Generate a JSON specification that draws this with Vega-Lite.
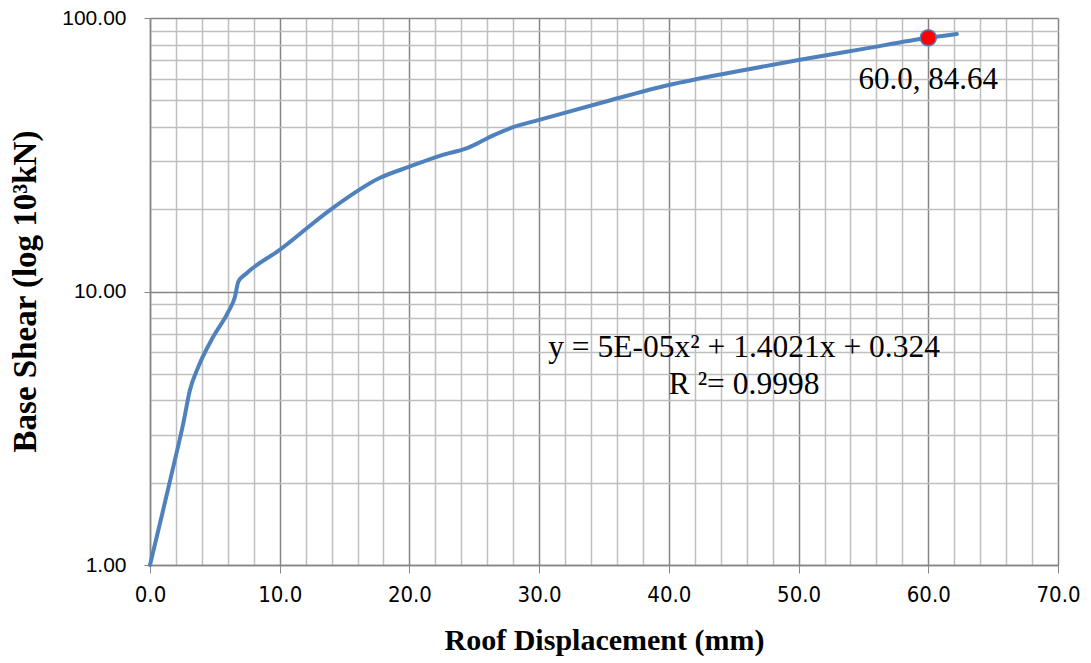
{
  "$schema": "https://vega.github.io/schema/vega-lite/v6.json",
  "width": 908,
  "height": 547,
  "autosize": {"type": "none"},
  "padding": {"left": 150, "top": 18, "right": 33, "bottom": 98},
  "background": "white",
  "config": {"view": {"stroke": null}},
  "datasets": {
    "curve": [
      {"x": 0, "y": 1.0}, {"x": 1.0, "y": 1.58}, {"x": 1.8, "y": 2.29}, {"x": 2.57, "y": 3.3},
      {"x": 3.08, "y": 4.36}, {"x": 3.73, "y": 5.31}, {"x": 4.88, "y": 6.84}, {"x": 6.04, "y": 8.44},
      {"x": 6.55, "y": 9.57}, {"x": 6.81, "y": 10.86}, {"x": 7.45, "y": 11.66}, {"x": 10.0, "y": 14.2},
      {"x": 13.9, "y": 19.9}, {"x": 17.7, "y": 26.0}, {"x": 20.0, "y": 28.6}, {"x": 22.4, "y": 31.4},
      {"x": 24.5, "y": 33.5}, {"x": 26.5, "y": 37.3}, {"x": 28.0, "y": 39.9}, {"x": 30.0, "y": 42.4},
      {"x": 35.0, "y": 49.3}, {"x": 40.0, "y": 56.9}, {"x": 45.0, "y": 63.5}, {"x": 50.0, "y": 70.2},
      {"x": 55.0, "y": 77.1}, {"x": 60.0, "y": 84.64}, {"x": 62.2, "y": 87.4}
    ],
    "marker": [{"x": 60.0, "y": 84.64}],
    "pointLabel": [{"x": 60.0, "y": 59.3, "label": "60.0, 84.64"}],
    "equation": [
      {"x": 45.8, "y": 6.22, "label": "y = 5E-05x² + 1.4021x + 0.324"},
      {"x": 45.8, "y": 4.55, "label": "R ²= 0.9998"}
    ]
  },
  "encoding": {
    "x": {
      "field": "x", "type": "quantitative",
      "scale": {"domain": [0, 70], "nice": false, "zero": false},
      "axis": {
        "title": "Roof Displacement (mm)",
        "values": [0,2,4,6,8,10,12,14,16,18,20,22,24,26,28,30,32,34,36,38,40,42,44,46,48,50,52,54,56,58,60,62,64,66,68,70],
        "labelExpr": "datum.value % 10 === 0 ? format(datum.value, '.1f') : ''",
        "labelOverlap": false, "labelFlush": false, "labelBound": false,
        "labelFont": "DejaVu Sans Condensed", "labelFontSize": 22, "labelColor": "#000000",
        "labelPadding": 11,
        "grid": true,
        "gridColor": {"condition": {"test": "datum.value % 10 === 0", "value": "#868686"}, "value": "#BFBFBF"},
        "gridWidth": 1.5,
        "tickSize": 8,
        "tickColor": "#868686",
        "tickOpacity": {"condition": {"test": "datum.value % 10 === 0", "value": 1}, "value": 0},
        "domainColor": "#868686", "domainWidth": 1.5,
        "titleFont": "Liberation Serif", "titleFontSize": 30, "titleFontWeight": "bold", "titleColor": "#000000",
        "titleX": 454, "titleY": 75, "titleAlign": "center", "titleBaseline": "middle", "titleAnchor": null
      }
    },
    "y": {
      "field": "y", "type": "quantitative",
      "scale": {"type": "log", "domain": [1, 100], "nice": false},
      "axis": {
        "title": "Base Shear (log 10³kN)",
        "values": [1,2,3,4,5,6,7,8,9,10,20,30,40,50,60,70,80,90,100],
        "labelExpr": "indexof([1,10,100], datum.value) >= 0 ? format(datum.value, '.2f') : ''",
        "labelOverlap": false, "labelFlush": false, "labelBound": false,
        "labelFont": "Liberation Sans", "labelFontSize": 21, "labelColor": "#000000",
        "labelPadding": 18,
        "grid": true,
        "gridColor": {"condition": {"test": "indexof([1,10,100], datum.value) >= 0", "value": "#868686"}, "value": "#BFBFBF"},
        "gridWidth": 1.5,
        "tickSize": 6,
        "tickColor": "#868686",
        "tickOpacity": {"condition": {"test": "indexof([1,10,100], datum.value) >= 0", "value": 1}, "value": 0},
        "domainColor": "#868686", "domainWidth": 1.5,
        "titleFont": "Liberation Serif", "titleFontSize": 33, "titleFontWeight": "bold", "titleColor": "#000000",
        "titleX": -125, "titleY": 273, "titleAngle": -90, "titleAlign": "center", "titleBaseline": "middle", "titleAnchor": null
      }
    }
  },
  "layer": [
    {
      "data": {"name": "curve"},
      "mark": {"type": "line", "color": "#4F81BD", "strokeWidth": 4, "interpolate": "monotone", "strokeCap": "round"}
    },
    {
      "data": {"name": "marker"},
      "mark": {"type": "point", "filled": true, "fill": "#FF0000", "stroke": "#4F81BD", "strokeWidth": 1.5, "size": 260, "opacity": 1, "strokeOpacity": 1}
    },
    {
      "data": {"name": "pointLabel"},
      "mark": {"type": "text", "font": "Liberation Serif", "fontSize": 31, "color": "#000000", "align": "center", "baseline": "middle"},
      "encoding": {"text": {"field": "label", "type": "nominal"}}
    },
    {
      "data": {"name": "equation"},
      "mark": {"type": "text", "font": "Liberation Serif", "fontSize": 31.5, "color": "#000000", "align": "center", "baseline": "middle"},
      "encoding": {"text": {"field": "label", "type": "nominal"}}
    }
  ]
}
